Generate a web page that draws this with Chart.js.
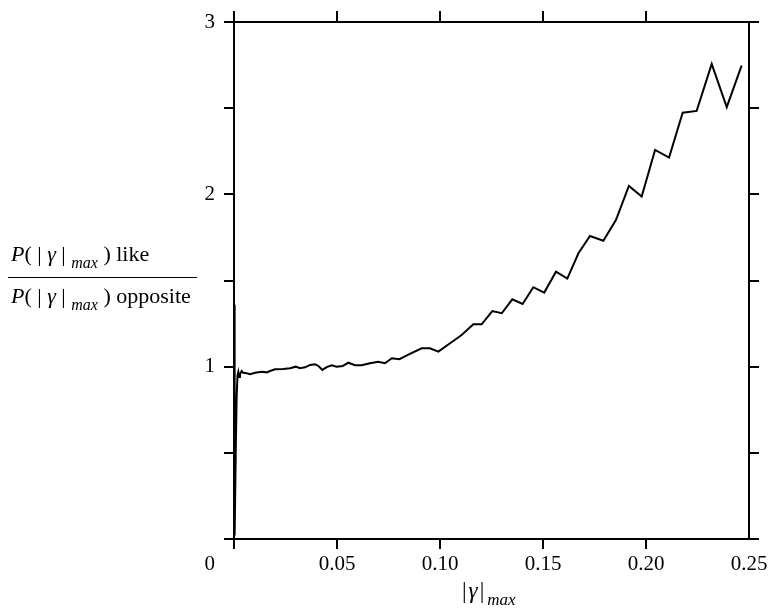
<!DOCTYPE html>
<html>
<head>
<meta charset="utf-8">
<script src="https://cdn.jsdelivr.net/npm/chart.js@4/dist/chart.umd.min.js"></script>
<style>
  html, body { margin: 0; padding: 0; background: #fff; }
  canvas { display: block; }
</style>
</head>
<body>
<canvas id="ratioChart" width="774" height="616"></canvas>
<script>
// |gamma|_max values (x)
const gammaMax = [
  0, 0.0003, 0.0009, 0.0013, 0.0017, 0.0021, 0.0025, 0.0029, 0.0037, 0.0045,
  0.0062, 0.0078, 0.0102, 0.0134, 0.0159, 0.0175, 0.0199, 0.0239, 0.0272, 0.0300,
  0.0320, 0.0345, 0.0369, 0.0393, 0.0410, 0.0429, 0.0450, 0.0474, 0.0498, 0.0528,
  0.0555, 0.0587, 0.0620, 0.0660, 0.0700, 0.0733, 0.0766, 0.0803, 0.0854, 0.0911,
  0.0951, 0.0992, 0.1049, 0.1105, 0.1162, 0.1202, 0.1254, 0.1300, 0.1351, 0.1401,
  0.1453, 0.1506, 0.1563, 0.1618, 0.1672, 0.1728, 0.1793, 0.1854, 0.1917, 0.1979,
  0.2044, 0.2112, 0.2178, 0.2246, 0.2319, 0.2392, 0.2464
];

// P(like) / P(opposite)
const likeOppositeRatio = [
  1.36, 0.02, 0.55, 0.83, 0.95, 0.97, 0.94, 0.955, 0.975, 0.965,
  0.962, 0.956, 0.965, 0.971, 0.967, 0.975, 0.985, 0.987, 0.991, 1.000,
  0.991, 0.996, 1.010, 1.014, 1.004, 0.981, 0.997, 1.008, 1.000, 1.004,
  1.023, 1.008, 1.008, 1.020, 1.029, 1.020, 1.049, 1.043, 1.074, 1.107,
  1.107, 1.087, 1.136, 1.184, 1.246, 1.246, 1.323, 1.310, 1.391, 1.364,
  1.461, 1.430, 1.551, 1.511, 1.658, 1.758, 1.731, 1.851, 2.049, 1.987,
  2.258, 2.213, 2.474, 2.484, 2.757, 2.506, 2.747
];

// tick labels
const xTickLabels = ['0', '0.05', '0.10', '0.15', '0.20', '0.25'];
const yTickLabels = ['1', '2', '3'];

const SERIF = "'Liberation Serif', 'Times New Roman', serif";
const TICK_FONT = { family: "'Liberation Serif', 'Times New Roman', serif", size: 21 };

const points = gammaMax.map((g, i) => ({ x: g, y: likeOppositeRatio[i] }));

// dessine un texte composé (italique / indice)
function drawMath(ctx, parts, x, y, size) {
  let cx = x;
  parts.forEach(p => {
    if (p.gap) { cx += p.gap; return; }
    const fs = p.sub ? Math.round(size * 0.72) : size;
    ctx.font = (p.i ? 'italic ' : '') + fs + 'px ' + SERIF;
    ctx.fillText(p.t, cx, p.sub ? y + 7 : y);
    cx += ctx.measureText(p.t).width;
  });
  return cx;
}

const titlesPlugin = {
  id: 'titles',
  afterDraw(chart) {
    const ctx = chart.ctx;
    const area = chart.chartArea;
    ctx.save();
    ctx.fillStyle = '#000';
    ctx.textBaseline = 'alphabetic';
    ctx.textAlign = 'left';

    // titre axe y (fraction)
    drawMath(ctx, [
      { t: 'P', i: true }, { t: '( | ' }, { t: 'γ', i: true }, { t: ' | ' },
      { t: 'max', i: true, sub: true }, { t: ' ) like' }
    ], 11, 261, 22);
    ctx.strokeStyle = '#000';
    ctx.lineWidth = 1.2;
    ctx.beginPath();
    ctx.moveTo(8, 277.5);
    ctx.lineTo(197, 277.5);
    ctx.stroke();
    drawMath(ctx, [
      { t: 'P', i: true }, { t: '( | ' }, { t: 'γ', i: true }, { t: ' | ' },
      { t: 'max', i: true, sub: true }, { t: ' ) opposite' }
    ], 11, 303, 22);

    // titre axe x
    drawMath(ctx, [
      { t: '|' }, { gap: 2 }, { t: 'γ', i: true }, { gap: 2 }, { t: '|' }, { gap: 3 },
      { t: 'max', i: true, sub: true }
    ], 462, 598, 23);

    // "0" du coin
    ctx.font = TICK_FONT.size + 'px ' + SERIF;
    ctx.textAlign = 'right';
    ctx.textBaseline = 'middle';
    ctx.fillText(xTickLabels[0], area.left - 19, area.bottom + 25);
    ctx.restore();
  }
};

const hideEnd = ctx => (ctx.tick && Math.abs(ctx.tick.value - 0.25) < 1e-9) ? 'rgba(0,0,0,0)' : '#000';

new Chart(document.getElementById('ratioChart'), {
  type: 'line',
  data: {
    datasets: [{
      data: points,
      borderColor: '#000',
      borderWidth: 2,
      pointRadius: 0,
      tension: 0,
      fill: false
    }]
  },
  options: {
    responsive: false,
    animation: false,
    layout: { padding: 0 },
    plugins: { legend: { display: false }, tooltip: { enabled: false } },
    scales: {
      x: {
        type: 'linear', position: 'bottom', min: 0, max: 0.25,
        afterFit: s => { s.height = 77; },
        border: { display: true, color: '#000', width: 2 },
        grid: { drawOnChartArea: false, drawTicks: true, tickLength: 10, lineWidth: 2, color: hideEnd },
        ticks: {
          stepSize: 0.05, padding: 3, color: '#000', font: TICK_FONT, maxRotation: 0,
          callback: v => {
            const idx = Math.round(v / 0.05);
            return idx === 0 ? '' : xTickLabels[idx];
          }
        }
      },
      x2: {
        type: 'linear', position: 'top', min: 0, max: 0.25,
        afterFit: s => { s.height = 22; },
        border: { display: true, color: '#000', width: 2 },
        grid: { drawOnChartArea: false, drawTicks: true, tickLength: 11, lineWidth: 2, color: hideEnd },
        ticks: { stepSize: 0.05, display: true, callback: () => '' }
      },
      y: {
        type: 'linear', position: 'left', min: 0, max: 3,
        afterFit: s => { s.width = 234; },
        border: { display: true, color: '#000', width: 2 },
        grid: { drawOnChartArea: false, drawTicks: true, tickLength: 10, lineWidth: 2, color: '#000' },
        ticks: {
          stepSize: 0.5, padding: 9, color: '#000', font: TICK_FONT,
          callback: v => (Number.isInteger(v) && v > 0) ? yTickLabels[v - 1] : ''
        }
      },
      y2: {
        type: 'linear', position: 'right', min: 0, max: 3,
        afterFit: s => { s.width = 25; },
        border: { display: true, color: '#000', width: 2 },
        grid: { drawOnChartArea: false, drawTicks: true, tickLength: 10, lineWidth: 2, color: '#000' },
        ticks: { stepSize: 0.5, callback: () => '' }
      }
    }
  },
  plugins: [titlesPlugin]
});
</script>
</body>
</html>
